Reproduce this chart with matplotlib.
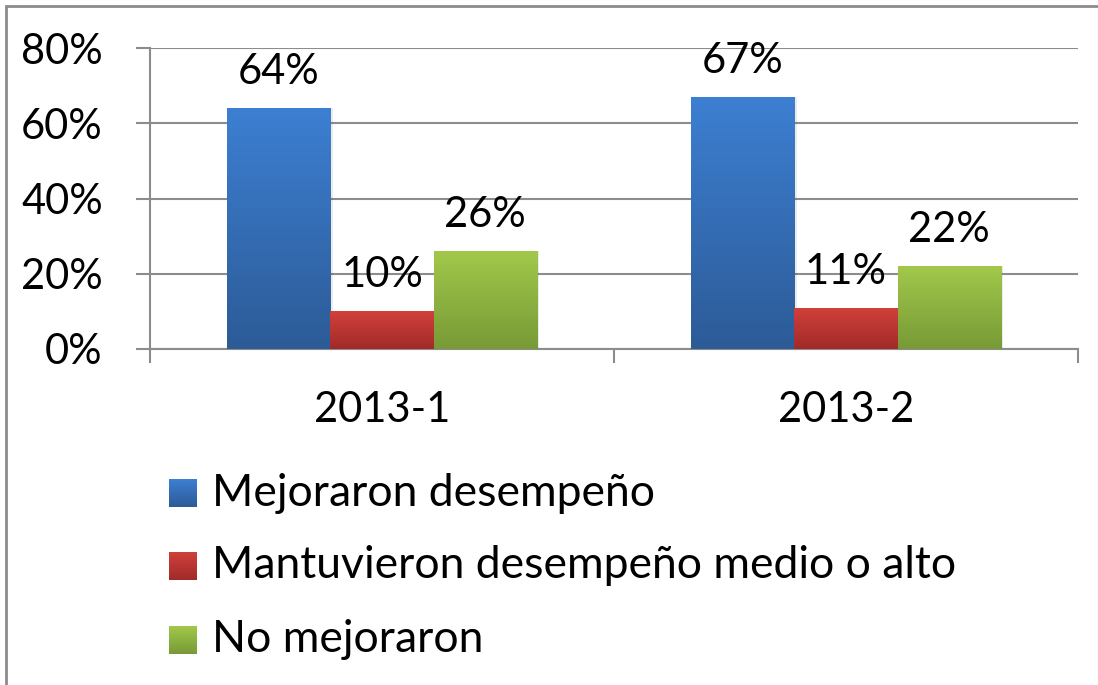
import numpy as np
import matplotlib.pyplot as plt
from matplotlib.patches import Rectangle
from matplotlib.colors import LinearSegmentedColormap

plt.rcParams['font.family'] = ['Lato', 'DejaVu Sans']

# data
periods = ["2013-1", "2013-2"]
series = ["Mejoraron desempeño", "Mantuvieron desempeño medio o alto", "No mejoraron"]
mejoraron = [64, 67]
mantuvieron = [10, 11]
no_mejoraron = [26, 22]
values = [mejoraron, mantuvieron, no_mejoraron]

# gradient colours (top, bottom) for each series
grad = [("#3d7fd2", "#2c5b97"), ("#d2403b", "#a02b29"), ("#a2c84b", "#789a36")]

fig = plt.figure(figsize=(10.98, 6.85), dpi=100)
ax = fig.add_axes([150 / 1098, 1 - 349 / 685, 928 / 1098, 301 / 685])

# outer chart border
fig.patches.append(Rectangle((6 / 1098, -0.1), 1.2, 1 - 6 / 685 + 0.1, transform=fig.transFigure,
                             fill=False, edgecolor="#8c8c8c", linewidth=2))

n = len(series)
width = 1 / (n + 1.5)
x = np.arange(len(periods))
grad_img = np.linspace(1, 0, 256).reshape(-1, 1)

for i, (name, vals) in enumerate(zip(series, values)):
    offs = x + (i - (n - 1) / 2) * width
    bars = ax.bar(offs, vals, width, color="none", label=name, zorder=3)
    cmap = LinearSegmentedColormap.from_list("g%d" % i, [grad[i][1], grad[i][0]])
    for b, v in zip(bars, vals):
        # shadow
        ax.add_patch(Rectangle((b.get_x() + 0.006, -0.4), b.get_width(), v + 0.4,
                               facecolor="#000000", alpha=0.08, zorder=2, linewidth=0))
        im = ax.imshow(grad_img, cmap=cmap, aspect="auto", zorder=3,
                       extent=[b.get_x(), b.get_x() + b.get_width(), 0, v])
        im.set_clip_path(b)
        ax.annotate("%d%%" % v, (b.get_x() + b.get_width() / 2, v), xytext=(0, 26),
                    textcoords="offset points", ha="center", va="center", fontsize=30, zorder=5)

ax.set_xlim(-0.5, len(periods) - 0.5)
ax.set_ylim(0, 80)
ax.set_yticks([0, 20, 40, 60, 80])
ax.set_yticklabels(["%d%%" % t for t in [0, 20, 40, 60, 80]], fontsize=30)
ax.set_xticks(np.arange(-0.5, len(periods), 1.0))
ax.set_xticklabels([])
for xi, p in zip(x, periods):
    ax.text(xi, -16.2, p, ha="center", va="center", fontsize=30)

ax.grid(axis="y", color="#8c8c8c", linewidth=1.5, zorder=0)
ax.set_axisbelow(True)
for s in ["top", "right"]:
    ax.spines[s].set_visible(False)
for s in ["left", "bottom"]:
    ax.spines[s].set_color("#8c8c8c")
    ax.spines[s].set_linewidth(1.5)
ax.tick_params(axis="both", direction="out", length=10, width=1.5, color="#8c8c8c")
ax.tick_params(axis="y", pad=24)

# legend drawn as squares + text under the plot
leg_y = [493, 566, 640]
for i, name in enumerate(series):
    yy = 1 - leg_y[i] / 685
    cm = LinearSegmentedColormap.from_list("l%d" % i, [grad[i][1], grad[i][0]])
    lax = fig.add_axes([169 / 1098, yy - 14 / 685, 28 / 1098, 28 / 685])
    lax.imshow(grad_img, cmap=cm, aspect="auto")
    lax.axis("off")
    fig.text(212 / 1098, yy, name, ha="left", va="center", fontsize=32)

fig.savefig("out.png", dpi=100)
